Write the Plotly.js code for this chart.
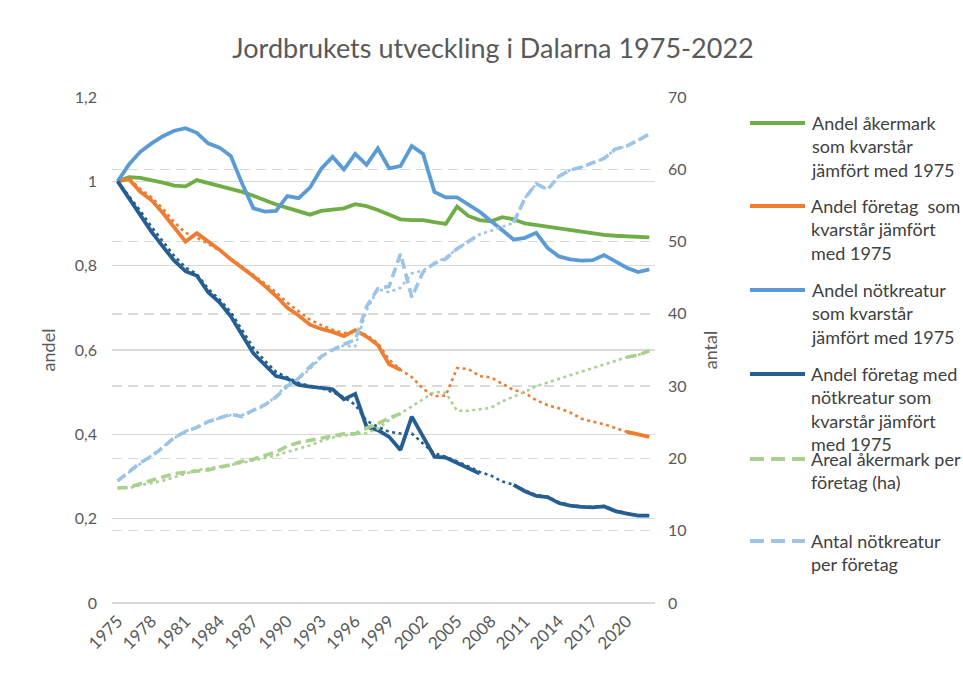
<!DOCTYPE html>
<html>
<head>
<meta charset="utf-8">
<script src="https://cdn.plot.ly/plotly-3.0.1.min.js"></script>
<style>
  html, body { margin: 0; padding: 0; background: #ffffff; }
  #chart { width: 963px; height: 687px; }
</style>
</head>
<body>
<div id="chart"></div>
<script>
// ---- Data: Jordbrukets utveckling i Dalarna 1975-2022 ----
const years = [1975,1976,1977,1978,1979,1980,1981,1982,1983,1984,1985,1986,1987,1988,1989,1990,
  1991,1992,1993,1994,1995,1996,1997,1998,1999,2000,2001,2002,2003,2004,2005,2006,2007,2008,2009,
  2010,2011,2012,2013,2014,2015,2016,2017,2018,2019,2020,2021,2022];
const yearTicks = [1975,1978,1981,1984,1987,1990,1993,1996,1999,2002,2005,2008,2011,2014,2017,2020];

// Left axis (andel)
const andelAkermark = [1.000,1.010,1.008,1.003,0.997,0.990,0.988,1.003,0.996,0.990,0.982,0.975,0.966,0.955,0.945,0.937,
  0.928,0.921,0.930,0.932,0.936,0.946,0.941,0.932,0.920,0.910,0.908,0.908,0.903,0.899,0.940,0.918,0.908,0.905,0.915,
  0.910,0.900,0.896,0.894,0.889,0.885,0.882,0.877,0.873,0.871,0.870,0.869,0.867];
const andelForetag = [1.000,1.005,0.975,0.955,0.925,0.890,0.857,0.877,0.858,0.838,0.815,0.795,0.775,0.752,0.728,0.700,
  0.682,0.660,0.650,0.643,0.633,0.647,0.632,0.612,0.566,0.553,null,null,null,null,null,null,null,null,null,
  null,null,null,null,null,null,null,null,null,null,0.406,0.401,0.394];
const andelForetagUppsk = [1.000,1.008,0.982,0.962,0.935,0.903,0.878,0.866,0.852,0.836,0.817,0.798,0.779,0.758,0.737,0.712,
  0.692,0.672,0.659,0.648,0.640,0.643,0.636,0.616,0.577,0.553,0.536,0.508,0.490,0.492,0.557,0.555,0.538,0.535,0.520,
  0.505,0.498,0.481,0.469,0.462,0.452,0.437,0.430,0.424,0.415,0.406,0.401,0.394];
const andelNotkreatur = [1.000,1.040,1.070,1.090,1.107,1.120,1.126,1.115,1.090,1.080,1.060,0.995,0.936,0.928,0.930,0.965,
  0.960,0.985,1.030,1.058,1.028,1.065,1.039,1.078,1.031,1.036,1.084,1.065,0.975,0.962,0.962,0.946,0.928,0.906,0.885,
  0.862,0.866,0.878,0.842,0.822,0.815,0.812,0.813,0.825,0.810,0.795,0.785,0.791];
const andelForetagNot = [1.000,0.960,0.920,0.880,0.845,0.812,0.787,0.776,0.737,0.713,0.680,0.635,0.592,0.565,0.538,0.532,
  0.517,0.513,0.510,0.507,0.483,0.496,0.418,0.410,0.394,0.363,0.442,0.394,0.347,0.345,0.332,0.320,0.307,null,null,
  0.280,0.265,0.254,0.251,0.237,0.231,0.228,0.227,0.229,0.218,0.212,0.207,0.207];
const andelForetagNotUppsk = [1.000,0.966,0.930,0.892,0.857,0.823,0.796,0.780,0.745,0.720,0.690,0.648,0.605,0.575,0.548,0.535,
  0.522,0.515,0.510,0.500,0.488,0.470,0.432,0.418,0.406,0.402,0.402,0.378,0.355,0.347,0.336,0.324,0.311,0.302,0.288,
  0.281,0.267,0.256,0.252,0.239,0.232,0.229,0.228,0.230,0.219,0.213,0.208,0.208];

// Right axis (antal)
const arealPerForetag = [15.9,16.0,16.5,17.0,17.5,17.9,18.1,18.2,18.4,18.8,19.1,19.6,19.9,20.4,20.9,21.7,
  22.2,22.5,22.8,23.1,23.4,23.4,24.2,24.8,25.6,26.2,null,null,null,null,null,null,null,null,null,
  null,null,null,null,null,null,null,null,null,null,34.0,34.3,34.9];
const arealPerForetagUppsk = [15.9,15.9,16.3,16.6,16.9,17.4,17.9,18.4,18.6,18.8,19.1,19.4,19.7,20.0,20.4,20.9,
  21.3,21.8,22.4,22.9,23.2,23.4,23.5,24.1,25.3,26.2,27.2,28.3,29.2,29.1,26.6,26.6,26.8,27.0,27.9,
  28.5,29.2,30.0,30.5,31.0,31.5,32.0,32.4,32.9,33.4,34.0,34.3,34.9];
const notPerForetag = [16.9,18.2,19.4,20.3,21.5,22.9,23.7,24.3,25.1,25.6,26.1,25.8,26.7,27.4,28.5,30.0,
  31.1,32.7,34.1,35.0,35.8,36.4,41.0,43.5,43.8,48.3,42.3,45.8,47.0,47.6,49.0,50.0,51.0,null,null,
  52.6,56.0,58.0,57.2,59.0,59.9,60.3,60.9,61.5,62.8,63.2,64.0,64.9];
const notPerForetagUppsk = [16.9,18.1,19.3,20.4,21.6,22.8,23.8,24.3,25.0,25.6,26.0,26.0,26.6,27.3,28.6,30.3,
  31.0,32.4,34.0,35.2,35.6,35.5,40.5,43.4,43.0,43.6,45.6,46.0,47.0,47.8,49.0,50.0,51.0,51.5,52.0,
  52.6,56.0,58.0,57.2,59.0,59.9,60.3,60.9,61.5,62.8,63.2,64.0,64.9];

const seriesNames = [
  'Andel åkermark<br>som kvarstår<br>jämfört med 1975',
  'Andel företag  som<br>kvarstår jämfört<br>med 1975',
  'Andel nötkreatur<br>som kvarstår<br>jämfört med 1975',
  'Andel företag med<br>nötkreatur som<br>kvarstår jämfört<br>med 1975',
  'Areal åkermark per<br>företag (ha)',
  'Antal nötkreatur<br>per företag'
];

// ---- Styling ----
const FONT = 'Lato, "Open Sans", sans-serif';
const TEXT = '#595959';
const C_GREEN = '#70AD47', C_ORANGE = '#ED7D31', C_BLUE = '#5B9BD5', C_DARK = '#255E91';
const C_LGREEN = '#A9D18E', C_LBLUE = '#9DC3E6';
const GRID = '#D9D9D9';
const DOT = '3px,3.5px';
const DASH = '10px,5px';

// plot box in pixels (used for the legend block placed to the right)
const BOX = { l: 112, r: 655, t: 97, b: 603 };
const px2x = px => (px - BOX.l) / (BOX.r - BOX.l);
const px2y = py => (BOX.b - py) / (BOX.b - BOX.t);

function line(y, axis, color, width, dash, name) {
  return {
    type: 'scatter', mode: 'lines', x: years, y: y, yaxis: axis, name: name || '',
    line: { color: color, width: width, dash: dash || 'solid' },
    connectgaps: false, showlegend: false, hoverinfo: 'skip'
  };
}

const traces = [
  // supplementary (dotted) series underneath
  line(arealPerForetagUppsk, 'y2', C_LGREEN, 2.6, DOT),
  line(notPerForetagUppsk, 'y2', C_LBLUE, 2.6, DOT),
  line(andelForetagUppsk, 'y', C_ORANGE, 2.6, DOT),
  line(andelForetagNotUppsk, 'y', C_DARK, 2.6, DOT),
  // main series
  line(arealPerForetag, 'y2', C_LGREEN, 3.6, DASH, seriesNames[4]),
  line(notPerForetag, 'y2', C_LBLUE, 3.6, DASH, seriesNames[5]),
  line(andelAkermark, 'y', C_GREEN, 3.8, 'solid', seriesNames[0]),
  line(andelForetag, 'y', C_ORANGE, 3.8, 'solid', seriesNames[1]),
  line(andelNotkreatur, 'y', C_BLUE, 3.8, 'solid', seriesNames[2]),
  line(andelForetagNot, 'y', C_DARK, 3.8, 'solid', seriesNames[3])
];

// legend block: sample line + wrapped label
const legendItems = [
  { color: C_GREEN, dash: 'solid', top: 123 },
  { color: C_ORANGE, dash: 'solid', top: 206 },
  { color: C_BLUE, dash: 'solid', top: 290 },
  { color: C_DARK, dash: 'solid', top: 374 },
  { color: C_LGREEN, dash: 'dash', top: 459 },
  { color: C_LBLUE, dash: 'dash', top: 541 }
];
const shapes = legendItems.map(it => ({
  type: 'line', xref: 'paper', yref: 'paper',
  x0: px2x(750), x1: px2x(805), y0: px2y(it.top), y1: px2y(it.top),
  line: { color: it.color, width: 4, dash: it.dash === 'dash' ? '14px,7px' : 'solid' }
}));
const annotations = legendItems.map((it, i) => ({
  xref: 'paper', yref: 'paper', x: px2x(809), y: px2y(it.top - 12.7),
  xanchor: 'left', yanchor: 'top', align: 'left', showarrow: false,
  text: seriesNames[i], font: { family: FONT, size: 18, color: '#404040' }
}));

const layout = {
  width: 963, height: 687,
  margin: { l: BOX.l, r: 963 - BOX.r, t: BOX.t, b: 687 - BOX.b },
  paper_bgcolor: '#ffffff', plot_bgcolor: '#ffffff',
  separators: ', ',
  font: { family: FONT, color: TEXT },
  showlegend: false,
  title: {
    text: 'Jordbrukets utveckling i Dalarna 1975-2022',
    x: 0.512, xref: 'container', xanchor: 'center',
    y: 0.93, yref: 'container', yanchor: 'middle',
    font: { family: FONT, size: 27, color: TEXT }
  },
  xaxis: {
    range: [1974.5, 2022.5], tickmode: 'array', tickvals: yearTicks, ticktext: yearTicks.map(String),
    tickangle: -45, showgrid: false, zeroline: false, showline: false, ticks: '',
    ticklabelstandoff: 4,
    tickfont: { family: FONT, size: 17, color: TEXT }, fixedrange: true
  },
  yaxis: {
    range: [0, 1.2], dtick: 0.2, tick0: 0, showgrid: true, gridcolor: GRID, gridwidth: 1.3,
    zeroline: true, zerolinecolor: GRID, zerolinewidth: 1.3, showline: false, ticks: '',
    ticklabelstandoff: 14,
    tickfont: { family: FONT, size: 16, color: TEXT },
    title: { text: 'andel', standoff: 14, font: { family: FONT, size: 18, color: TEXT } }
  },
  yaxis2: {
    overlaying: 'y', side: 'right', range: [0, 70], dtick: 10, tick0: 0,
    showgrid: true, gridcolor: GRID, gridwidth: 1.3, griddash: '10px,6px',
    zeroline: false, showline: false, ticks: '', ticklabelstandoff: 12,
    tickfont: { family: FONT, size: 16, color: TEXT },
    title: { text: 'antal', standoff: 18, font: { family: FONT, size: 18, color: TEXT } }
  },
  shapes: shapes,
  annotations: annotations
};

Plotly.newPlot('chart', traces, layout, { staticPlot: true, displayModeBar: false });
</script>
</body>
</html>
